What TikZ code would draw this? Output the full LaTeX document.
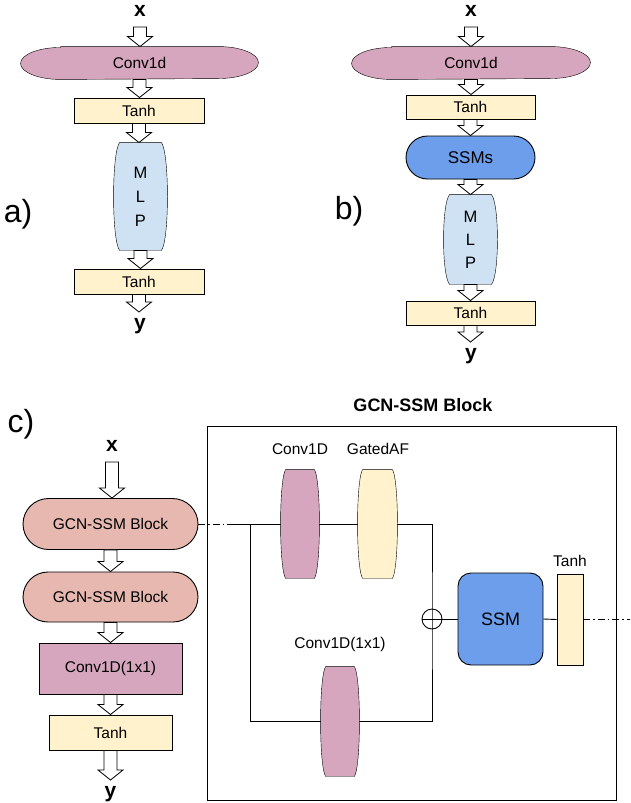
\documentclass[tikz,border=0pt]{standalone}
\usepackage{fontspec}
\setmainfont{Liberation Sans}
\usepackage[svgnames]{xcolor}
\usetikzlibrary{calc, shapes.misc, backgrounds}

\definecolor{convpink}{HTML}{D5A6BD}
\definecolor{tanhyellow}{HTML}{FFF2CC}
\definecolor{mlpblue}{HTML}{CFE2F3}
\definecolor{ssmblue}{HTML}{6D9EEB}
\definecolor{gcnrose}{HTML}{E6B8AF}

% long oval with elliptic ends, drawn round a node
\newcommand{\ovalshape}[2]{%
	\draw[fill=#2] ($(#1.north west)+(40,0)$) -- ($(#1.north east)+(-40,0)$)
		arc[start angle=90, end angle=-90, x radius=40pt, y radius=16pt]
		-- ($(#1.south west)+(40,0)$)
		arc[start angle=270, end angle=90, x radius=40pt, y radius=16pt] -- cycle;}
% barrel with bulging sides, drawn round a node
\newcommand{\barrelshape}[3]{%
	\draw[fill=#3] ($(#1.north west)+(#2,0)$) -- ($(#1.north east)+(-#2,0)$)
		.. controls ($(#1.north east)!.1!(#1.south east)+(#2/3,0)$) and ($(#1.north east)!.9!(#1.south east)+(#2/3,0)$) .. ($(#1.south east)+(-#2,0)$)
		-- ($(#1.south west)+(#2,0)$)
		.. controls ($(#1.north west)!.9!(#1.south west)+(-#2/3,0)$) and ($(#1.north west)!.1!(#1.south west)+(-#2/3,0)$) .. cycle;}

\begin{document}
\begin{tikzpicture}[x=1pt, y=-1pt, line width=0.9pt,
	txt/.style={inner sep=0pt, font=\fontsize{15.5}{18}\selectfont},
	boxed/.style={txt, draw, rectangle, fill=#1},
	pill/.style={txt, draw, rounded rectangle, fill=#1},
	io/.style={inner xsep=0pt, font=\bfseries\fontsize{21}{21}\selectfont},
	xin/.style={io, inner ysep=10pt, anchor=south},
	yout/.style={io, inner ysep=6pt, anchor=north},
	tag/.style={font=\fontsize{32}{32}\selectfont},
	hollow/.style={fill=white, line width=0.8pt, to path={let \p1=(\tikztostart), \p2=(\tikztotarget) in
		(\x1-6.5pt,\y1) -- (\x1+6.5pt,\y1) -- (\x1+6.5pt,\y2+10pt) -- (\x1+12.5pt,\y2+10pt)
		-- (\x1,\y2) -- (\x1-12.5pt,\y2+10pt) -- (\x1-6.5pt,\y2+10pt) -- cycle}},
	dashdot/.style={dash pattern=on 7pt off 3pt on 1.5pt off 3pt}]
	\useasboundingbox (0,0) rectangle (630,803);

	% a)
	\node[tag] (taga) at (18,214) {a)};
	\node[xin] (xa) at (140,27) {x};
	\node[txt, minimum width=237, minimum height=32] (cva) at (139.5,63) {Conv1d};
	\node[boxed=tanhyellow, minimum width=130, minimum height=25] (ta1) at (139,110.5) {Tanh};
	\node[txt, align=center, minimum width=53, minimum height=107, font=\fontsize{16.5}{24}\selectfont] (mlpa) at (140.5,196.5) {M\\L\\P};
	\node[boxed=tanhyellow, minimum width=130, minimum height=25] (ta2) at (139,281.5) {Tanh};
	\node[yout] (ya) at (140,312) {y};
	\draw[hollow] (xa.south) to (cva.north);
	\draw[hollow] (cva.south) to (ta1.north);
	\draw[hollow] (ta1.south) to (mlpa.north);
	\draw[hollow] (mlpa.south) to (ta2.north);
	\draw[hollow] (ta2.south) to (ya.north);

	% b)
	\node[tag] (tagb) at (349,211) {b)};
	\node[xin] (xb) at (471,27) {x};
	\node[txt, minimum width=238, minimum height=32] (cvb) at (471,63) {Conv1d};
	\node[boxed=tanhyellow, minimum width=129, minimum height=24] (tb1) at (470.5,107) {Tanh};
	\node[pill=ssmblue, minimum width=129, minimum height=43, font=\fontsize{17}{18}\selectfont] (ssms) at (470.5,157.5) {SSMs};
	\node[txt, align=center, minimum width=53, minimum height=89, font=\fontsize{16.5}{23}\selectfont] (mlpb) at (470.5,239.5) {M\\L\\P};
	\node[boxed=tanhyellow, minimum width=129, minimum height=24] (tb2) at (470.5,313) {Tanh};
	\node[yout] (yb) at (471,342) {y};
	\draw[hollow] (xb.south) to (cvb.north);
	\draw[hollow] (cvb.south) to (tb1.north);
	\draw[hollow] (tb1.south) to (ssms.north);
	\draw[hollow] (ssms.south) to (mlpb.north);
	\draw[hollow] (mlpb.south) to (tb2.north);
	\draw[hollow] (tb2.south) to (yb.north);

	% c)
	\node[tag] (tagc) at (21,424) {c)};
	\node[xin] (xc) at (112,462) {x};
	\node[pill=gcnrose, minimum width=175, minimum height=51] (g1) at (110.5,524) {GCN-SSM Block};
	\node[pill=gcnrose, minimum width=175, minimum height=50] (g2) at (110.5,597) {GCN-SSM Block};
	\node[boxed=convpink, minimum width=143, minimum height=51] (c11) at (110.5,668.5) {Conv1D(1x1)};
	\node[boxed=tanhyellow, minimum width=123, minimum height=35] (tc) at (110.5,732.5) {Tanh};
	\node[yout] (yc) at (110.5,780) {y};
	\draw[hollow] (xc.south) to (g1.north);
	\draw[hollow] (g1.south) to (g2.north);
	\draw[hollow] (g2.south) to (c11.north);
	\draw[hollow] (c11.south) to (tc.north);
	\draw[hollow] (tc.south) to (yc.north);

	% block detail
	\node[draw, minimum width=409, minimum height=374, inner sep=0pt] (blk) at (411.5,613) {};
	\node[font=\bfseries\fontsize{18}{18}\selectfont] (ttl) at (423,405) {GCN-SSM Block};
	\node[txt] (lcv) at (300,449) {Conv1D};
	\node[txt] (lgaf) at (378,449) {GatedAF};
	\node[txt] (lone) at (340,644) {Conv1D(1x1)};
	\node[txt] (ltanh) at (570,561) {Tanh};
	\node[txt, minimum width=38, minimum height=108] (cvA) at (300,524) {};
	\node[txt, minimum width=39, minimum height=108] (gaf) at (377.5,524) {};
	\node[txt, minimum width=38, minimum height=109] (cvB) at (340,721.5) {};
	\node[draw, circle, minimum size=20, inner sep=0pt] (plus) at (432,619) {};
	\node[txt, draw, fill=ssmblue, rounded corners=13, minimum width=85, minimum height=92, font=\fontsize{18}{18}\selectfont] (ssm) at (500.5,619) {SSM};
	\node[boxed=tanhyellow, minimum width=26, minimum height=91] (tanhc) at (570,619.5) {};
	\coordinate (tap) at (232,524);
	\coordinate (split) at (250,524);
	\coordinate (outr) at (630,619.5);
	\draw[dashdot] (g1.east) -- (tap);
	\draw (tap) -- (cvA.west);
	\draw (cvA.east) -- (gaf.west);
	\draw (gaf.east) -| (plus.center) |- (cvB.east);
	\draw (split) |- (cvB.west);
	\draw (plus.west) -- (ssm.west);
	\draw (ssm.east) -- (tanhc.west);
	\draw[dashdot] (tanhc.east) -- (outr);

	\begin{scope}[on background layer]
		\ovalshape{cva}{convpink}
		\ovalshape{cvb}{convpink}
		\barrelshape{mlpa}{6}{mlpblue}
		\barrelshape{mlpb}{6}{mlpblue}
		\barrelshape{cvA}{5}{convpink}
		\barrelshape{gaf}{5}{tanhyellow}
		\barrelshape{cvB}{5}{convpink}
	\end{scope}
\end{tikzpicture}
\end{document}
